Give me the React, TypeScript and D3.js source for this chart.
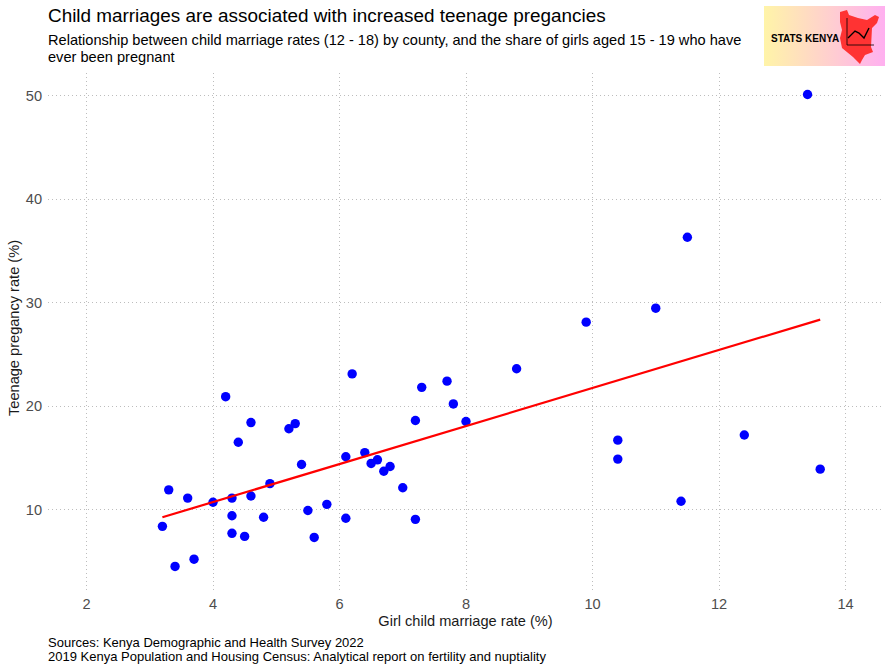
import * as d3 from 'd3';

const marriageRate = [4.2, 4.6, 4.4, 5.2, 5.3, 5.4, 4.9, 3.3, 3.6, 4.0, 4.3, 4.6, 4.3, 4.8, 5.5, 5.8, 3.2, 4.3, 4.5, 5.6, 3.7, 3.4, 6.2, 7.3, 7.7, 8.8, 7.8, 7.2, 8.0, 6.1, 6.4, 6.6, 6.5, 6.8, 6.7, 7.0, 6.1, 7.2, 9.9, 11.0, 11.5, 13.4, 10.4, 10.4, 12.4, 13.6, 11.4];
const pregnancyRate = [20.9, 18.4, 16.5, 17.8, 18.3, 14.35, 12.5, 11.9, 11.1, 10.7, 11.1, 11.3, 9.4, 9.25, 9.9, 10.5, 8.37, 7.7, 7.4, 7.3, 5.2, 4.5, 23.1, 21.8, 22.4, 23.6, 20.2, 18.6, 18.5, 15.1, 15.5, 14.8, 14.45, 14.15, 13.7, 12.1, 9.15, 9.05, 28.1, 29.45, 36.3, 50.1, 16.7, 14.87, 17.2, 13.9, 10.8];

const fitX = [3.2, 13.6];
const fitY = [9.25, 28.35];

const xTicks = [2, 4, 6, 8, 10, 12, 14];
const yTicks = [10, 20, 30, 40, 50];

const subtitleLines = [
  'Relationship between child marriage rates (12 - 18) by county, and the share of girls aged 15 - 19 who have',
  'ever been pregnant',
];
const captionLines = [
  'Sources: Kenya Demographic and Health Survey 2022',
  '2019 Kenya Population and Housing Census: Analytical report on fertility and nuptiality',
];

// logo outlines, in logo units
const kenyaShape: [number, number][] = [[76, 6], [83, 4], [85, 9], [94, 12], [103, 14], [111, 9], [115, 11], [113, 17], [108, 22], [107, 41], [109, 46], [101, 49], [98, 54], [96, 58], [89, 51], [78, 42], [76, 32], [78, 24], [76, 16]];
const logoTrend: [number, number][] = [[84, 32], [91, 25], [95, 27], [100, 32], [105, 22]];

const W = 890;
const H = 670;
const font = '"Liberation Sans", Arial, sans-serif';

export default function App() {
  const x = d3.scaleLinear().domain([2, 14]).range([86.5, 845.5]);
  const y = d3.scaleLinear().domain([10, 50]).range([509.5, 95.5]);
  const fitLine = d3.line<number>().x(d => x(d)).y((_, i) => y(fitY[i]));
  const logoLine = d3.line();

  return (
    <svg width={W} height={H} style={{ position: 'absolute', left: 0, top: 0 }} fontFamily={font}>
      <defs>
        <linearGradient id="logoFill" x1="0" x2="1" y1="0" y2="0">
          <stop offset="0" stopColor="#fff4a8" />
          <stop offset="1" stopColor="#ffb0f0" />
        </linearGradient>
      </defs>

      {/* grid */}
      <g stroke="#bdbdbd" strokeWidth={1} strokeDasharray="1 3" shapeRendering="crispEdges">
        {xTicks.map(t => <line key={t} x1={x(t)} x2={x(t)} y1={73} y2={592} />)}
        {yTicks.map(t => <line key={t} x1={48} x2={884} y1={y(t)} y2={y(t)} />)}
      </g>

      {/* tick labels */}
      <g fill="#4d4d4d" fontSize={14.6}>
        {xTicks.map(t => <text key={t} x={x(t)} y={609} textAnchor="middle">{t}</text>)}
        {yTicks.map(t => <text key={t} x={42} y={y(t) + 5} textAnchor="end">{t}</text>)}
      </g>

      {/* axis titles */}
      <text x={465.5} y={626} textAnchor="middle" fontSize={14.6} fill="#1a1a1a">Girl child marriage rate (%)</text>
      <text transform={`translate(19,328) rotate(-90)`} textAnchor="middle" fontSize={14.6} fill="#1a1a1a">Teenage pregancy rate (%)</text>

      {/* points */}
      <g fill="#0000ff">
        {marriageRate.map((d, i) => <circle key={i} cx={x(d)} cy={y(pregnancyRate[i])} r={4.7} />)}
      </g>

      {/* fitted line */}
      <path d={fitLine(fitX) ?? ''} fill="none" stroke="#ff0000" strokeWidth={2.2} />

      {/* header */}
      <text x={48} y={22} fontSize={18.9} fill="#000">Child marriages are associated with increased teenage pregancies</text>
      <text fontSize={14.6} fill="#000">
        {subtitleLines.map((l, i) => <tspan key={i} x={48} y={44.5 + i * 17}>{l}</tspan>)}
      </text>

      {/* logo */}
      <g transform="translate(764,6)">
        <rect width={121} height={60} fill="url(#logoFill)" />
        <path d={(logoLine(kenyaShape) ?? '') + 'Z'} fill="#ff3333" />
        <text x={7} y={36} fontSize={10} fontWeight="bold" fill="#000">STATS KENYA</text>
        <path d="M83 12V39H110" fill="none" stroke="#000" strokeWidth={0.8} />
        <path d={logoLine(logoTrend) ?? ''} fill="none" stroke="#000" strokeWidth={1.4} />
      </g>

      {/* caption */}
      <text fontSize={13} fill="#000">
        {captionLines.map((l, i) => <tspan key={i} x={48} y={647 + i * 14}>{l}</tspan>)}
      </text>
    </svg>
  );
}
